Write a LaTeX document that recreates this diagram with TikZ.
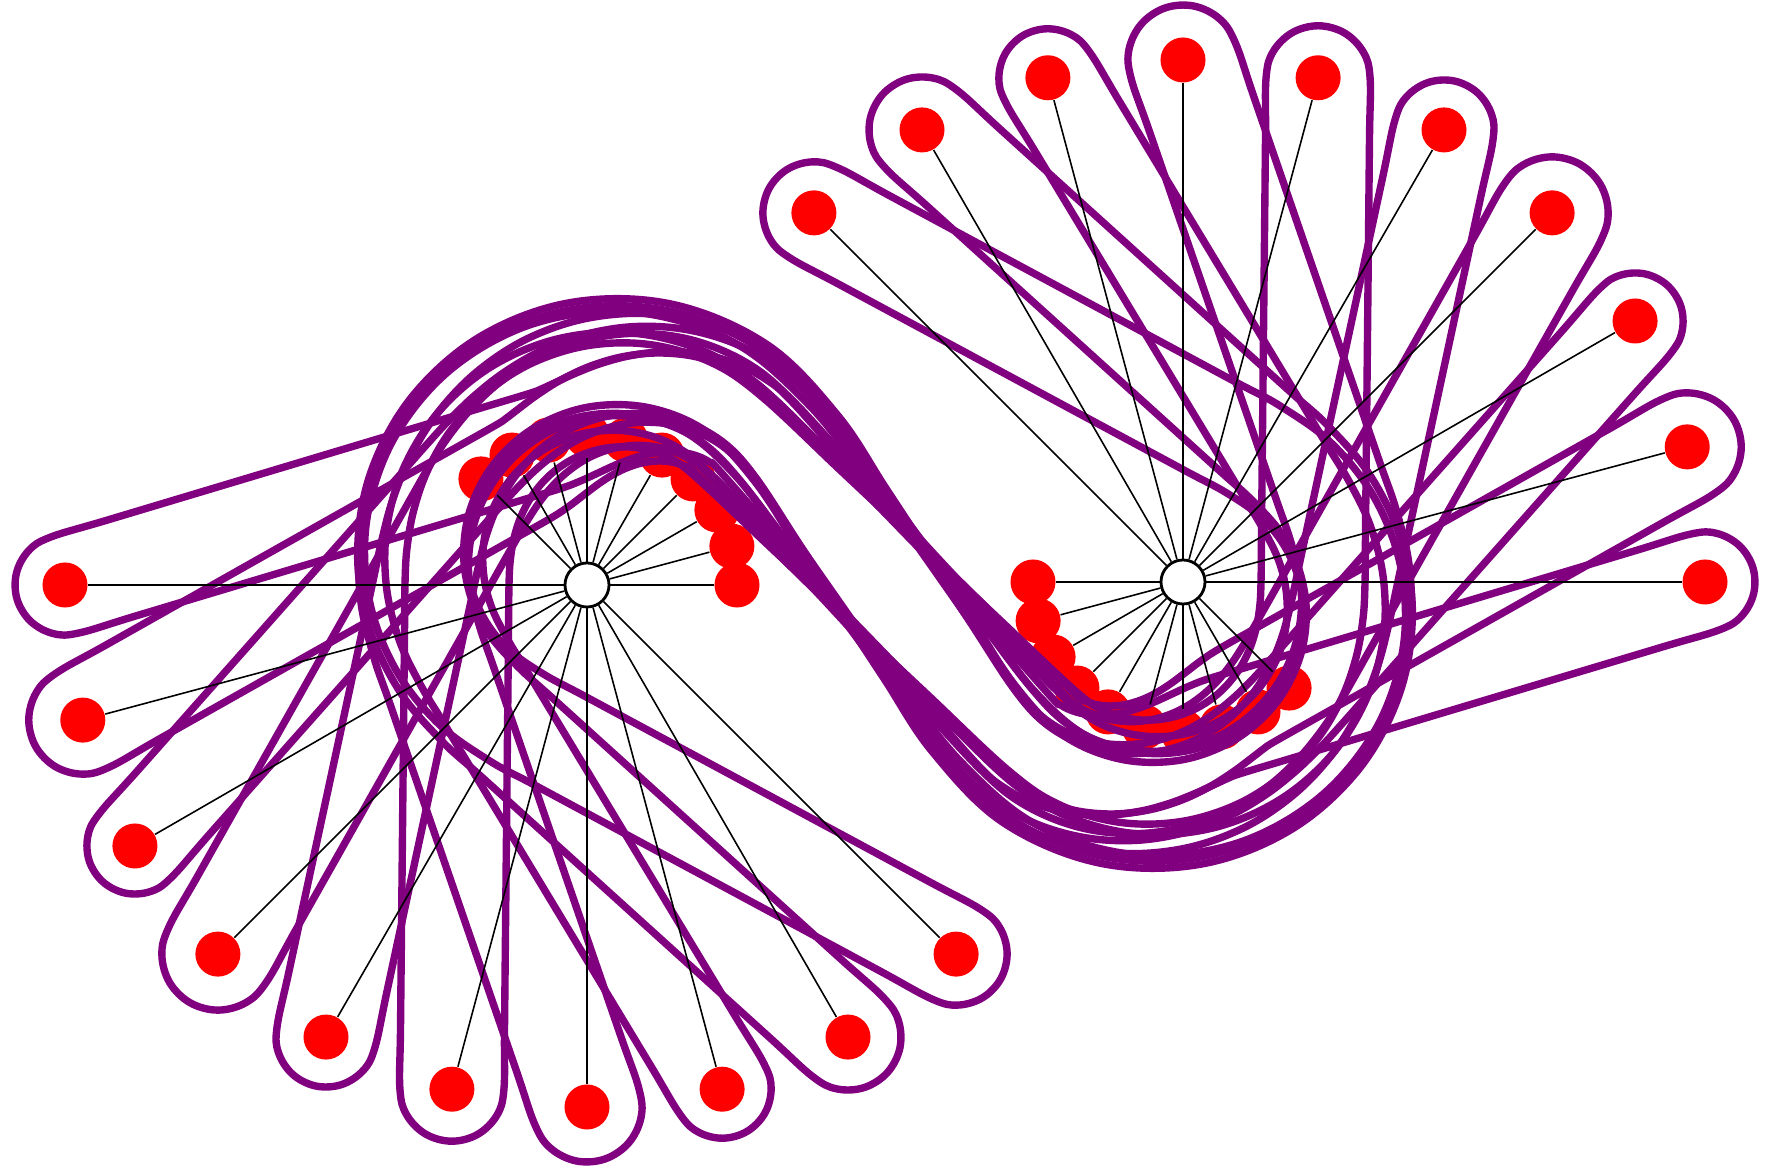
\documentclass[tikz,border=0pt]{standalone}
\usetikzlibrary{calc}
\definecolor{hyper}{RGB}{128,0,128}
\newcommand\setc[3]{\expandafter\xdef\csname cx#1\endcsname{#2}\expandafter\xdef\csname cy#1\endcsname{#3}}
\newcommand\setn[3]{\expandafter\xdef\csname nx#1\endcsname{#2}\expandafter\xdef\csname ny#1\endcsname{#3}}
\newcommand\cx[1]{\csname cx#1\endcsname}
\newcommand\cy[1]{\csname cy#1\endcsname}
\newcommand\nx[1]{\csname nx#1\endcsname}
\newcommand\ny[1]{\csname ny#1\endcsname}
\newcommand\addpt[2]{\xdef\bandpts{\bandpts (#1,#2)}}

\begin{document}
\begin{tikzpicture}[x=0.01cm, y=-0.01cm]
\tikzstyle{hub}=[circle, draw=black, line width=0.8pt, fill=white, minimum size=4.4mm, inner sep=0pt]
\tikzstyle{leaf}=[circle, fill=red, minimum size=4.5mm, inner sep=0pt]
\tikzstyle{spoke}=[black, line width=0.45pt]
\tikzstyle{band}=[draw=hyper, line width=2.1pt]
\useasboundingbox (0,0) rectangle (1781,1174);
\node[hub] (cl) at (587,585) {};
\node[hub] (cr) at (1183,582) {};
\foreach \n in {0,...,9}{
  \node[leaf] (lo\n) at ({587+522*cos(180+15*\n)},{585-522*sin(180+15*\n)}) {};
  \node[leaf] (li\n) at ({587+150*cos(15*\n)},{585-150*sin(15*\n)}) {};
  \node[leaf] (ro\n) at ({1183+522*cos(15*\n)},{582-522*sin(15*\n)}) {};
  \node[leaf] (ri\n) at ({1183+150*cos(180+15*\n)},{582-150*sin(180+15*\n)}) {};
}
% hyperedges: centre line winds round cl, right half mirrored in (885,583.5)
\foreach \n/\rt/\rex/\w in {0/150/225/50, 1/130/210/54, 2/165/245/48, 3/140/220/56, 4/160/250/50,
    5/130/205/52, 6/170/240/55, 7/145/215/49, 8/160/250/53, 9/150/235/51}{
  \pgfmathsetmacro\aout{180+15*\n}
  \pgfmathsetmacro\atg{\aout-acos(\rt/522)}
  \pgfmathsetmacro\aex{acos(\rex/298)}
  \pgfmathsetmacro\ax{587+522*cos(\aout)}\pgfmathsetmacro\ay{585-522*sin(\aout)}
  \pgfmathsetmacro\bx{587+\rt*cos(\atg)}\pgfmathsetmacro\by{585-\rt*sin(\atg)}
  \setc{0}{\ax}{\ay}
  \foreach \s [count=\i] in {0.12,0.4,0.7,0.9}{
    \pgfmathsetmacro\qx{\ax+\s*(\bx-\ax)}\pgfmathsetmacro\qy{\ay+\s*(\by-\ay)}
    \setc{\i}{\qx}{\qy}
  }
  \setc{5}{\bx}{\by}
  \foreach \j in {1,...,10}{
    \pgfmathsetmacro\fr{\j/10}
    \pgfmathsetmacro\ang{\atg-\fr*(\atg-\aex)}
    \pgfmathsetmacro\rr{\rt+(\rex-\rt)*\fr*\fr*(3-2*\fr)}
    \pgfmathsetmacro\ax{587+\rr*cos(\ang)}\pgfmathsetmacro\ay{585-\rr*sin(\ang)}
    \pgfmathtruncatemacro\i{\j+5}
    \setc{\i}{\ax}{\ay}
  }
  \pgfmathsetmacro\qx{(\cx{15}+885)/2}\pgfmathsetmacro\qy{(\cy{15}+583.5)/2}
  \setc{16}{\qx}{\qy}
  \setc{17}{885}{583.5}
  \foreach \i in {0,...,16}{
    \pgfmathtruncatemacro\j{34-\i}
    \pgfmathsetmacro\ax{1770-\cx{\i}}\pgfmathsetmacro\ay{1167-\cy{\i}}
    \setc{\j}{\ax}{\ay}
  }
  \foreach \i in {0,...,34}{
    \pgfmathtruncatemacro\ip{min(\i+1,34)}
    \pgfmathtruncatemacro\im{max(\i-1,0)}
    \pgfmathsetmacro\ddx{\cx{\ip}-\cx{\im}}
    \pgfmathsetmacro\ddy{\cy{\ip}-\cy{\im}}
    \pgfmathsetmacro\dl{veclen(\ddx,\ddy)}
    \pgfmathsetmacro\ax{-(\ddy)/\dl}\pgfmathsetmacro\ay{(\ddx)/\dl}
    \setn{\i}{\ax}{\ay}
  }
  \gdef\bandpts{}
  \foreach \i in {0,...,34}{
    \pgfmathsetmacro\ax{\cx{\i}+\w*(\nx{\i})}\pgfmathsetmacro\ay{\cy{\i}+\w*(\ny{\i})}
    \addpt{\ax}{\ay}
  }
  \pgfmathsetmacro\tx{\cx{34}-\cx{33}}\pgfmathsetmacro\ty{\cy{34}-\cy{33}}
  \pgfmathsetmacro\dl{veclen(\tx,\ty)}
  \pgfmathsetmacro\tx{(\tx)/\dl}\pgfmathsetmacro\ty{(\ty)/\dl}
  \foreach \b in {60,30,0,-30,-60}{
    \pgfmathsetmacro\ax{\cx{34}+\w*(cos(\b)*(\tx)+sin(\b)*(\nx{34}))}
    \pgfmathsetmacro\ay{\cy{34}+\w*(cos(\b)*(\ty)+sin(\b)*(\ny{34}))}
    \addpt{\ax}{\ay}
  }
  \foreach \i in {34,...,0}{
    \pgfmathsetmacro\ax{\cx{\i}-\w*(\nx{\i})}\pgfmathsetmacro\ay{\cy{\i}-\w*(\ny{\i})}
    \addpt{\ax}{\ay}
  }
  \pgfmathsetmacro\tx{\cx{1}-\cx{0}}\pgfmathsetmacro\ty{\cy{1}-\cy{0}}
  \pgfmathsetmacro\dl{veclen(\tx,\ty)}
  \pgfmathsetmacro\tx{(\tx)/\dl}\pgfmathsetmacro\ty{(\ty)/\dl}
  \foreach \b in {-60,-30,0,30,60}{
    \pgfmathsetmacro\ax{\cx{0}+\w*(-cos(\b)*(\tx)+sin(\b)*(\nx{0}))}
    \pgfmathsetmacro\ay{\cy{0}+\w*(-cos(\b)*(\ty)+sin(\b)*(\ny{0}))}
    \addpt{\ax}{\ay}
  }
  \edef\drawband{\noexpand\draw[band] plot[smooth cycle, tension=0.6] coordinates {\bandpts};}\drawband
}
\foreach \n in {0,...,9}{
  \draw[spoke] (cl) -- (lo\n); \draw[spoke] (cl) -- (li\n);
  \draw[spoke] (cr) -- (ro\n); \draw[spoke] (cr) -- (ri\n);
}
\end{tikzpicture}
\end{document}
